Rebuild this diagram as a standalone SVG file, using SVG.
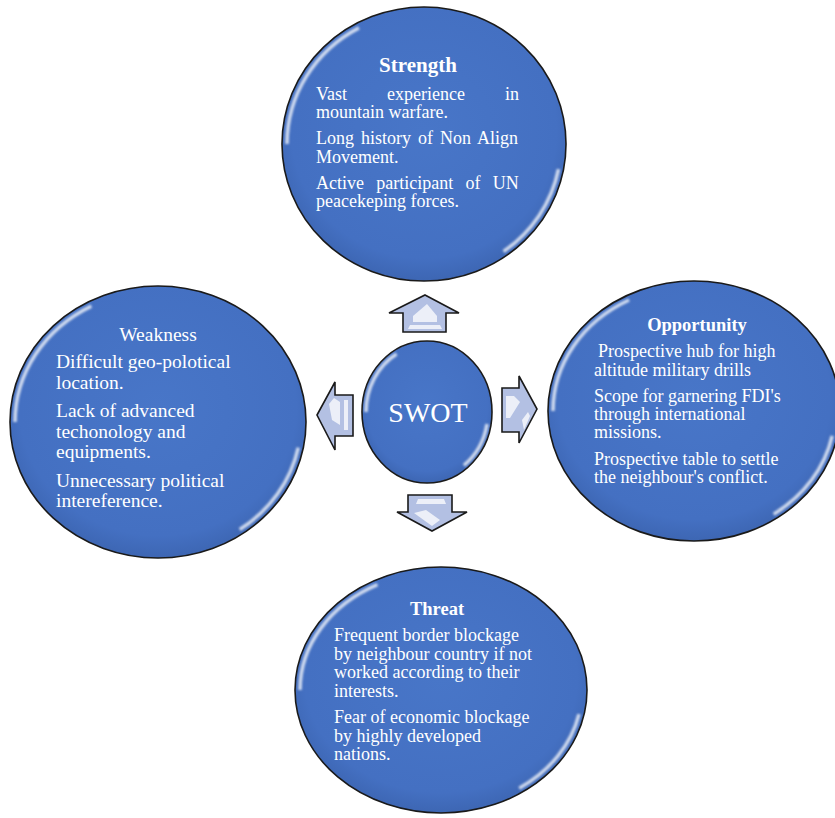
<svg xmlns="http://www.w3.org/2000/svg" width="835" height="818" viewBox="0 0 835 818">
<defs>
<filter id="soft" x="-10%" y="-10%" width="120%" height="120%"><feGaussianBlur stdDeviation="0.9"/></filter>
<radialGradient id="blue" cx="50%" cy="45%" r="55%">
<stop offset="0" stop-color="#4876c8"/>
<stop offset="0.85" stop-color="#4470c2"/>
<stop offset="1" stop-color="#3d66b3"/>
</radialGradient>
</defs>
<style>
.c{fill:url(#blue);stroke:#1a1a1a;stroke-width:1.6}
.hl{fill:none;stroke:#ffffff;stroke-opacity:0.75;stroke-width:3.5;stroke-dasharray:12 35 17 36;stroke-dashoffset:97;filter:url(#soft)}
.ar{fill:#b3c0e3;stroke:#1a1a1a;stroke-width:1.6;stroke-linejoin:miter}
.ah{fill:#ffffff;fill-opacity:0.75;stroke:none}
.t{font-family:"Liberation Serif","Times New Roman",serif;fill:#ffffff}
.h{font-weight:bold;text-anchor:middle}
.b{font-size:18px}
</style>

<g id="connectors">
<g id="arrow-up">
<polygon class="ar" points="425,295 459,313 446,313 446,332 403,332 403,313 389,313"/>
<polygon class="ah" points="413,316 427,304 437,316 437,322 413,322"/>
<polygon class="ah" points="410,325 440,325 442,329 408,329" fill-opacity="0.5"/>
</g>
<g id="arrow-right">
<polygon class="ar" points="502,388 519,388 519,376 537,409 519,443 519,432 502,432"/>
<polygon class="ah" points="506,396 514,396 520,402 510,418 506,418"/>
<polygon class="ah" points="522,420 528,412 530,416 524,430" fill-opacity="0.5"/>
</g>
<g id="arrow-left">
<polygon class="ar" points="317,415 335,382 335,395 353,395 353,436 335,436 335,450"/>
<polygon class="ah" points="329,404 334,398 340,402 340,425 332,420"/>
<polygon class="ah" points="344,400 348,400 348,430 344,430" fill-opacity="0.5"/>
</g>
<g id="arrow-down">
<polygon class="ar" points="408,495 452,495 452,512 467,512 432,531 397,512 408,512"/>
<polygon class="ah" points="418,499 444,499 446,504 416,504"/>
<polygon class="ah" points="414,513 426,510 440,520 432,526" fill-opacity="0.55"/>
</g>
</g>

<g id="strength">
<ellipse class="c" cx="424" cy="144" rx="142" ry="137"/>
<ellipse class="hl" cx="424" cy="144" rx="137" ry="132" pathLength="100"/>
<text class="t h" x="418" y="72" font-size="21">Strength</text>
<text class="t b" x="316" y="100" word-spacing="35.5">Vast experience in</text>
<text class="t b" x="316" y="118">mountain warfare.</text>
<text class="t b" x="316" y="144" word-spacing="2.5">Long history of Non Align</text>
<text class="t b" x="316" y="163">Movement.</text>
<text class="t b" x="316" y="189" word-spacing="7.8">Active participant of UN</text>
<text class="t b" x="316" y="207">peacekeping forces.</text>
</g>

<g id="weakness">
<ellipse class="c" cx="158" cy="422" rx="148" ry="136"/>
<ellipse class="hl" cx="158" cy="422" rx="143" ry="131" pathLength="100"/>
<text class="t" x="158" y="341" font-size="19.5" text-anchor="middle">Weakness</text>
<text class="t" font-size="19.5" x="56" y="368">Difficult geo-polotical</text>
<text class="t" font-size="19.5" x="56" y="389">location.</text>
<text class="t" font-size="19.5" x="56" y="417">Lack of advanced</text>
<text class="t" font-size="19.5" x="56" y="438">techonology and</text>
<text class="t" font-size="19.5" x="56" y="458">equipments.</text>
<text class="t" font-size="19.5" x="56" y="487">Unnecessary political</text>
<text class="t" font-size="19.5" x="56" y="507">intereference.</text>
</g>

<g id="swot">
<ellipse class="c" cx="427" cy="412" rx="65" ry="71"/>
<ellipse class="hl" cx="427" cy="412" rx="61" ry="67" pathLength="100"/>
<text class="t" x="428" y="422" font-size="28" text-anchor="middle">SWOT</text>
</g>

<g id="opportunity">
<ellipse class="c" cx="694" cy="411" rx="146" ry="130"/>
<ellipse class="hl" cx="694" cy="411" rx="141" ry="125" pathLength="100"/>
<text class="t h" x="697" y="331" font-size="18.5">Opportunity</text>
<text class="t b" x="598" y="357">Prospective hub for high</text>
<text class="t b" x="594" y="376">altitude military drills</text>
<text class="t b" x="594" y="402">Scope for garnering FDI's</text>
<text class="t b" x="594" y="420">through international</text>
<text class="t b" x="594" y="438">missions.</text>
<text class="t b" x="594" y="465">Prospective table to settle</text>
<text class="t b" x="594" y="483">the neighbour's conflict.</text>
</g>

<g id="threat">
<ellipse class="c" cx="441" cy="690" rx="146" ry="123"/>
<ellipse class="hl" cx="441" cy="690" rx="141" ry="118" pathLength="100"/>
<text class="t h" x="437" y="615" font-size="18.5">Threat</text>
<text class="t b" x="334" y="641">Frequent border blockage</text>
<text class="t b" x="334" y="660">by neighbour country if not</text>
<text class="t b" x="334" y="678">worked according to their</text>
<text class="t b" x="334" y="697">interests.</text>
<text class="t b" x="334" y="723">Fear of economic blockage</text>
<text class="t b" x="334" y="742">by highly developed</text>
<text class="t b" x="334" y="760">nations.</text>
</g>
</svg>
